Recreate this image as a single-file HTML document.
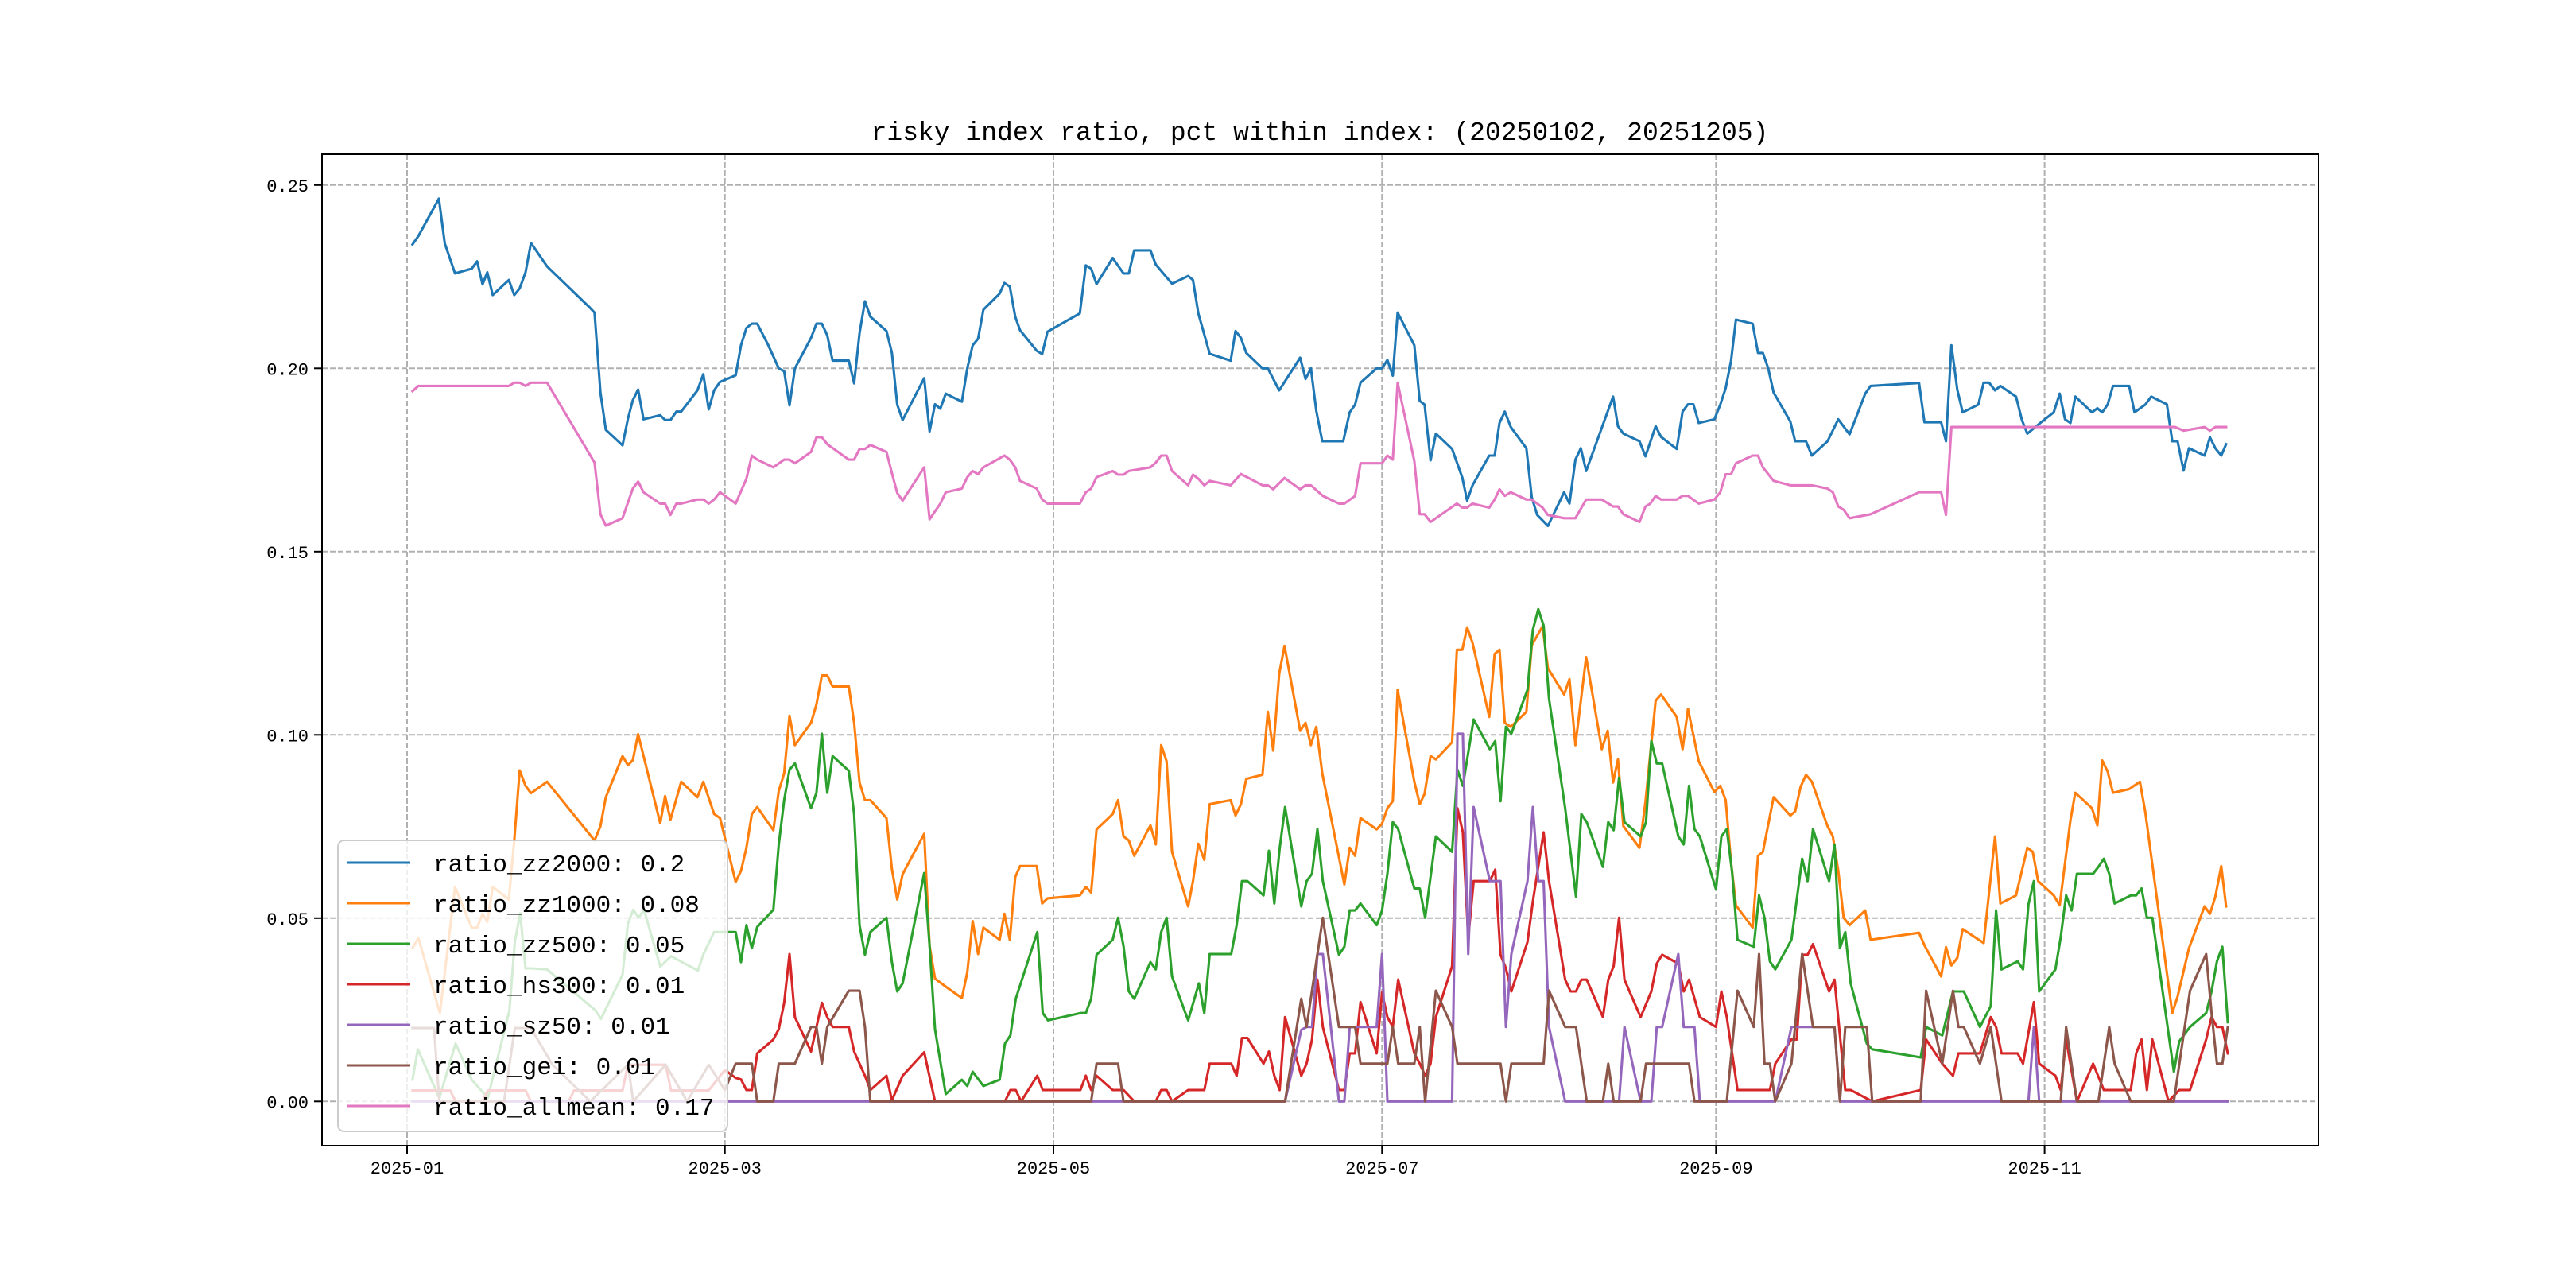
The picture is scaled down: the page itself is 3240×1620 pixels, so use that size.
<!DOCTYPE html>
<html><head><meta charset="utf-8">
<style>
html,body{margin:0;padding:0;background:#fff;}
svg{display:block;}
text{font-family:"Liberation Mono","WenQuanYi Zen Hei",monospace;}
</style></head>
<body>
<svg id="chart" width="3240" height="1620" viewBox="0 0 3240 1620" xmlns="http://www.w3.org/2000/svg">
<rect width="3240" height="1620" fill="#fff"/>
<text x="1660" y="176" font-size="33" text-anchor="middle" fill="#000">risky index ratio, pct within index: (20250102, 20251205)</text>
<g id="grid"></g>
<g id="series"></g>
<rect x="405" y="194" width="2511" height="1247" fill="none" stroke="#000" stroke-width="2"/>
<g id="ticks"></g>
<g id="legend"></g>
</svg>
<script>
// x values are day offsets from 2025-01-01
const zz2000Days=[1,2.1,4.9,5.9,7,8.9,12,13,14,14.9,15.9,18.9,19.9,20.9,22,23,26,33.9,34.8,35.9,36.9,40,41,41.9,42.9,43.9,47,47.9,48.9,50,50.9,53.9,55,56,57,58.1,61,62,63,64,65,67,69,70,71,72,75,76,77,78,79,82,83,84,85,86,89,90,91,92,96,97,98,99,100,103,104,105,106,107,110,110.9,111.9,112.9,113.8,116.9,117.9,118.9,124.9,126,127,128,131,133,134,135,138,139,142,145,145.9,146.9,149,152.9,153.8,154.8,155.8,158.8,159.8,161.9,165.8,166.8,167.8,168.8,169.9,173.8,175,176,177,180,181,182,183,183.9,187,188,188.9,190,191,194,195.9,196.8,197.8,200.9,201.9,202.8,203.8,204.9,207.8,208.8,209.8,210.8,211.8,214.8,215.8,216.9,217.9,218.9,223.9,224.8,225.8,228.8,229.9,231.8,232.8,235.7,236.8,237.8,238.8,239.8,242.7,243.8,244.8,245.8,246.7,249.8,250.8,251.7,252.7,253.7,256.8,257.7,259.7,260.8,263.7,265.7,267.8,270.7,271.7,280.7,281.7,284.8,285.7,286.7,287.8,288.8,291.7,292.7,293.7,294.8,295.8,298.7,299.8,300.8,303.7,305.7,306.8,307.8,308.8,309.7,312.8,313.8,314.7,315.7,316.7,319.7,320.7,322.7,323.8,326.7,327.7,328.7,329.8,330.8,333.7,334.7,335.7,336.8,337.7];
const zz2000Vals=[0.2338,0.2361,0.2436,0.2463,0.2341,0.2259,0.2272,0.2292,0.2229,0.2262,0.2200,0.2241,0.2200,0.2218,0.2262,0.2342,0.2278,0.2166,0.2152,0.1934,0.1832,0.1790,0.1863,0.1913,0.1942,0.1861,0.1872,0.1859,0.1859,0.1882,0.1882,0.1940,0.1984,0.1888,0.1940,0.1963,0.1981,0.2063,0.2110,0.2122,0.2122,0.2065,0.2000,0.1992,0.1899,0.2000,0.2083,0.2122,0.2122,0.2090,0.2021,0.2021,0.1959,0.2096,0.2183,0.2141,0.2102,0.2042,0.1901,0.1859,0.1973,0.1828,0.1902,0.1890,0.1931,0.1909,0.2000,0.2063,0.2081,0.2160,0.2204,0.2233,0.2223,0.2141,0.2104,0.2048,0.2039,0.2100,0.2150,0.2281,0.2272,0.2230,0.2301,0.2259,0.2259,0.2322,0.2322,0.2283,0.2231,0.2252,0.2241,0.2150,0.2040,0.2021,0.2102,0.2083,0.2042,0.2000,0.2000,0.1940,0.2029,0.1971,0.2000,0.1884,0.1801,0.1801,0.1880,0.1901,0.1961,0.2000,0.2000,0.2023,0.1980,0.2152,0.2063,0.1911,0.1901,0.1749,0.1822,0.1780,0.1702,0.1639,0.1681,0.1762,0.1762,0.1851,0.1882,0.1840,0.1782,0.1648,0.1600,0.1585,0.1570,0.1662,0.1631,0.1751,0.1782,0.1720,0.1923,0.1842,0.1822,0.1801,0.1760,0.1842,0.1813,0.1780,0.1882,0.1902,0.1902,0.1851,0.1861,0.1901,0.1946,0.2021,0.2133,0.2122,0.2042,0.2042,0.2000,0.1934,0.1855,0.1801,0.1801,0.1762,0.1801,0.1861,0.1820,0.1931,0.1952,0.1960,0.1853,0.1853,0.1801,0.2063,0.1942,0.1880,0.1901,0.1961,0.1961,0.1940,0.1952,0.1923,0.1859,0.1822,0.1857,0.1880,0.1931,0.1861,0.1851,0.1923,0.1880,0.1891,0.1880,0.1901,0.1952,0.1952,0.1880,0.1901,0.1923,0.1902,0.1801,0.1801,0.1721,0.1782,0.1762,0.1812,0.1782,0.1762,0.1793];

const zz1000Days=[1,2.1,6.1,8.9,12,13,14,14.9,15.9,18.9,19.9,20.9,22,23,26,34.8,35.9,36.9,40,41,41.9,42.9,47,47.9,48.9,50.9,53.9,55,57,58.1,61,62,63,64,65,68,69,70,71,72,75,76,77,78,79,82,83,84,85,86,89,90,91,92,96,97,98,100,103,104,105,106,107,110,110.9,111.9,112.9,113.8,116.9,117.9,118.9,124.9,126,127,128,131,132,133,134,135,138,139,140,141,142,145,145.9,146.9,148,149,152.9,153.8,154.8,155.8,158.8,159.8,160.8,161.9,162.9,165.8,166.8,167.8,168.8,169.9,174,175,176,177,180,181,182,183,183.9,187,188,188.9,190,191,194,194.9,195.9,196.8,197.8,200.9,201.9,202.8,203.8,204.9,207.8,208.8,210.8,211.8,214.8,215.8,216.9,218.9,221.8,222.9,223.9,224.8,225.8,228.8,229.9,231.8,232.8,235.7,236.8,237.8,239.8,242.7,243.8,244.8,245.8,246.7,249.8,250.8,251.7,253.7,256.8,257.7,258.7,259.7,260.8,263.7,264.7,265.7,266.7,267.8,270.7,271.7,280.7,281.7,284.8,285.7,286.7,287.8,288.8,292.7,294.8,295.8,298.7,300.8,301.8,302.8,305.7,306.8,308.8,309.7,312.8,313.8,314.7,315.7,316.7,319.7,321.7,322.7,327.7,328.7,330.8,333.7,334.7,335.7,336.8,337.7];
const zz1000Vals=[0.0418,0.0446,0.0241,0.0585,0.0474,0.0474,0.0512,0.0490,0.0585,0.0551,0.0712,0.0903,0.0861,0.0841,0.0872,0.0712,0.0751,0.0830,0.0942,0.0917,0.0931,0.1002,0.0759,0.0833,0.0769,0.0872,0.0830,0.0872,0.0784,0.0773,0.0599,0.0629,0.0692,0.0784,0.0803,0.0740,0.0847,0.0895,0.1052,0.0972,0.1033,0.1083,0.1162,0.1162,0.1132,0.1132,0.1033,0.0870,0.0822,0.0822,0.0773,0.0634,0.0551,0.0620,0.0730,0.0424,0.0335,0.0313,0.0282,0.0352,0.0492,0.0402,0.0474,0.0441,0.0512,0.0441,0.0612,0.0642,0.0642,0.0540,0.0554,0.0562,0.0585,0.0570,0.0742,0.0784,0.0822,0.0723,0.0712,0.0670,0.0753,0.0701,0.0972,0.0928,0.0681,0.0532,0.0601,0.0703,0.0659,0.0811,0.0822,0.0780,0.0811,0.0880,0.0891,0.1063,0.0957,0.1166,0.1243,0.1011,0.1033,0.0972,0.1022,0.0895,0.0592,0.0692,0.0670,0.0773,0.0742,0.0758,0.0800,0.0819,0.1123,0.0872,0.0811,0.0839,0.0942,0.0933,0.0980,0.1232,0.1232,0.1293,0.1251,0.1049,0.1221,0.1232,0.1033,0.1022,0.1063,0.1245,0.1296,0.1182,0.1110,0.1152,0.0972,0.1212,0.0961,0.1011,0.0870,0.0933,0.0751,0.0692,0.0817,0.1093,0.1110,0.1049,0.0961,0.1071,0.0928,0.0844,0.0861,0.0822,0.0651,0.0535,0.0474,0.0670,0.0681,0.0830,0.0780,0.0791,0.0858,0.0891,0.0872,0.0751,0.0723,0.0629,0.0501,0.0481,0.0521,0.0441,0.0460,0.0426,0.0341,0.0421,0.0371,0.0391,0.0470,0.0432,0.0723,0.0540,0.0562,0.0692,0.0681,0.0601,0.0562,0.0535,0.0767,0.0842,0.0800,0.0753,0.0930,0.0900,0.0842,0.0852,0.0872,0.0789,0.0241,0.0286,0.0418,0.0532,0.0512,0.0559,0.0642,0.0532];

const zz500Days=[1,2,6,9,12,15,19,20,21,22,23,26,35,36,40,41,42,43,44,47,49,54,55,57,58,61,62,63,64,65,68,69,70,71,72,75,76,77,78,79,82,83,84,85,86,89,90,91,92,96,97,98,100,103,104,105,107,110,111,112,113,117,118,119,125,126,127,128,131,132,133,134,135,138,139,140,141,142,145,147,148,149,153,154,155,156,159,160,161,162,163,166,167,168,169,170,173,174,175,176,177,180,181,182,183,184,187,188,189,191,194,195,196,198,201,202,203,204,205,208,209,210,211,212,215,217,218,219,222,223,224,225,226,229,230,231,232,233,236,237,238,239,240,243,244,245,246,247,250,251,252,253,254,257,259,260,261,264,265,266,267,268,271,272,281,282,285,287,289,292,294,295,296,299,300,301,302,303,306,307,308,309,310,313,314,315,316,317,320,321,322,323,324,328,329,331,334,335,336,337,338];
const zz500Vals=[0.0059,0.0142,0.0009,0.0158,0.0059,0.0010,0.0248,0.0435,0.0513,0.0363,0.0363,0.0360,0.0248,0.0225,0.0346,0.0485,0.0523,0.0501,0.0523,0.0368,0.0396,0.0357,0.0401,0.0462,0.0462,0.0462,0.0380,0.0481,0.0418,0.0476,0.0523,0.0701,0.0822,0.0905,0.0922,0.0800,0.0842,0.1003,0.0842,0.0942,0.0902,0.0784,0.0481,0.0400,0.0462,0.0501,0.0380,0.0300,0.0322,0.0623,0.0424,0.0197,0.0020,0.0059,0.0042,0.0081,0.0042,0.0059,0.0158,0.0180,0.0280,0.0462,0.0241,0.0221,0.0241,0.0241,0.0280,0.0400,0.0441,0.0501,0.0424,0.0300,0.0280,0.0380,0.0360,0.0462,0.0501,0.0341,0.0221,0.0322,0.0241,0.0402,0.0402,0.0481,0.0601,0.0601,0.0562,0.0684,0.0540,0.0690,0.0803,0.0532,0.0601,0.0621,0.0743,0.0601,0.0400,0.0422,0.0521,0.0521,0.0540,0.0481,0.0521,0.0621,0.0762,0.0743,0.0581,0.0581,0.0501,0.0723,0.0681,0.0905,0.0861,0.1042,0.0961,0.0983,0.0819,0.1022,0.1003,0.1123,0.1287,0.1343,0.1298,0.1099,0.0800,0.0559,0.0784,0.0762,0.0640,0.0762,0.0740,0.0883,0.0762,0.0723,0.0762,0.0983,0.0922,0.0922,0.0723,0.0701,0.0861,0.0743,0.0723,0.0579,0.0723,0.0743,0.0623,0.0441,0.0422,0.0562,0.0501,0.0382,0.0360,0.0441,0.0662,0.0601,0.0743,0.0601,0.0701,0.0418,0.0462,0.0322,0.0158,0.0142,0.0120,0.0203,0.0180,0.0300,0.0300,0.0203,0.0260,0.0521,0.0360,0.0382,0.0360,0.0537,0.0601,0.0300,0.0360,0.0448,0.0562,0.0521,0.0621,0.0621,0.0640,0.0662,0.0621,0.0540,0.0562,0.0562,0.0581,0.0501,0.0501,0.0081,0.0164,0.0203,0.0241,0.0300,0.0382,0.0422,0.0216];

const hs300Days=[1,8,9,14,15,22,23,30,31,40,41,48,49,56,59,61,62,63,64,65,68,69,70,71,72,75,76,77,78,79,82,83,85,86,89,90,92,96,98,111,112,113,114,117,118,125,126,127,128,131,133,135,139,140,141,142,145,148,149,153,154,155,156,159,160,161,162,163,166,167,168,169,170,173,174,175,176,177,180,181,182,183,184,187,188,189,190,191,194,195,196,197,198,201,202,203,204,205,208,209,211,212,215,216,217,218,219,222,223,224,225,226,229,231,232,233,236,237,238,240,243,244,245,247,253,254,257,258,259,260,261,264,265,266,267,268,272,281,282,285,287,288,292,294,295,296,299,300,302,303,306,307,308,310,313,315,320,321,322,323,324,327,329,331,334,335,336,337,338];
const hs300Vals=[0.003,0.003,0,0,0.003,0.003,0,0,0.003,0.003,0.01,0.01,0.003,0.003,0.0086,0.0064,0.0060,0.0031,0.0031,0.0131,0.0169,0.0197,0.0269,0.0402,0.0230,0.0136,0.0203,0.0269,0.0230,0.0203,0.0203,0.0136,0.0070,0.0031,0.0070,0.0003,0.0070,0.0134,0,0,0.0031,0.0031,0,0.0070,0.0031,0.0031,0.0070,0.0031,0.0070,0.0031,0.0031,0,0,0.0031,0.0031,0,0.0031,0.0031,0.0103,0.0103,0.0070,0.0173,0.0173,0.0103,0.0136,0.0070,0.0031,0.0230,0.0070,0.0103,0.0169,0.0332,0.0203,0.0031,0.0031,0.0131,0.0131,0.0271,0.0131,0.0297,0.0230,0.0203,0.0332,0.0131,0.0103,0.0070,0.0103,0.0230,0.0369,0.0800,0.0734,0.0446,0.0601,0.0601,0.0632,0.0400,0.0363,0.0300,0.0435,0.0546,0.0734,0.0601,0.0332,0.0300,0.0300,0.0332,0.0332,0.0230,0.0332,0.0369,0.0501,0.0332,0.0230,0.0300,0.0376,0.0400,0.0376,0.0300,0.0332,0.0230,0.0203,0.0300,0.0230,0.0031,0.0031,0.0103,0.0169,0.0169,0.0400,0.0400,0.0429,0.0300,0.0332,0.0180,0.0031,0.0031,0,0.0031,0.0169,0.0103,0.0070,0.0131,0.0131,0.0230,0.0203,0.0131,0.0131,0.0103,0.0271,0.0103,0.0070,0.0031,0.0169,0,0.0103,0.0031,0.0031,0.0131,0.0169,0.0031,0.0169,0,0.0031,0.0031,0.0169,0.0230,0.0203,0.0203,0.0131];

const sz50Days=[1,163,166,167,168,169,170,173,174,175,180,181,182,194,195,196,197,198,201,203,204,205,208,209,210,211,212,215,225,226,229,231,232,233,236,237,239,240,254,257,265,266,301,302,303,338];
const sz50Vals=[0,0,0.0195,0.0203,0.0203,0.0402,0.0402,0,0,0.0203,0.0203,0.0402,0,0,0.1003,0.1003,0.0402,0.0803,0.0601,0.0601,0.0203,0.0402,0.0601,0.0803,0.0601,0.0601,0.0203,0,0,0.0203,0,0,0.0203,0.0203,0.0402,0.0203,0.0203,0,0,0.0203,0.0203,0,0,0.0203,0,0];

const geiDays=[1,5,6,18,20,23,27,34,41,42,48,52,56,59,61,64,65,68,69,72,75,76,77,78,82,84,85,86,127,128,132,133,163,166,167,170,173,176,177,182,183,184,187,188,189,191,194,195,203,204,205,211,212,215,217,219,222,223,224,229,230,233,237,238,239,245,247,250,251,252,253,254,257,259,261,265,266,267,271,272,281,282,285,287,288,289,292,294,296,307,308,310,314,316,317,320,328,331,334,335,336,337,338];
const geiVals=[0.02,0.02,0,0,0.02,0.02,0.01,0,0.01,0,0.01,0,0.01,0.0031,0.0103,0.0103,0,0,0.0103,0.0103,0.0203,0.0203,0.0103,0.0203,0.0302,0.0302,0.0203,0,0,0.0103,0.0103,0,0,0.0280,0.0203,0.0501,0.0203,0.0203,0.0103,0.0103,0.0203,0.0103,0.0103,0.0203,0,0.0302,0.0203,0.0103,0.0103,0,0.0103,0.0103,0.0302,0.0203,0.0203,0,0,0.0103,0,0,0.0103,0.0103,0.0103,0.0103,0,0,0.0302,0.0203,0.0402,0.0103,0.0103,0,0.0103,0.0402,0.0203,0.0203,0,0.0203,0.0203,0,0,0.0302,0.0103,0.0302,0.0203,0.0203,0.0103,0.0203,0,0,0.0203,0,0,0.0203,0.0103,0,0,0.0302,0.0402,0.0241,0.0103,0.0103,0.0203];

const allmeanDays=[1,2.1,18.9,19.9,20.9,22,23,26,34.8,35.9,36.9,40,41.9,42.9,43.9,47,47.9,48.9,50,50.9,53.9,55,56,57,58.1,61,63,64,65,68,70,71,72,75,76,77,78,82,83,84,85,86,89,90,91,92,96,97,99,100,103,104,105,106,107,110.9,111.9,112.9,113.8,116.9,117.9,118.9,124.9,126,127,128,131,132,133,134,138,139,140,141,142,145,145.9,146.9,148,149,152.9,154.8,158.8,159.8,160.8,162.9,165.8,166.8,167.8,170,173,174,176,177,181,182,183,183.9,187,188,188.9,190,194.9,195.9,196.8,197.8,200.9,201.9,202.8,203.8,204.9,207.8,208.8,210.8,211.8,214.8,216.9,218.9,221.8,223.9,224.8,225.8,228.8,229.9,230.8,231.8,232.8,235.7,236.8,237.8,239.8,242.7,243.8,244.8,245.8,246.7,249.8,250.8,251.7,253.7,256.8,260.8,263.7,264.7,265.7,266.7,267.8,271.7,280.7,284.8,285.7,286.7,328.2,329.8,333.7,334.7,335.7,337.7];
const allmeanVals=[0.1938,0.1952,0.1952,0.1961,0.1961,0.1952,0.1961,0.1961,0.1743,0.1602,0.1571,0.1591,0.1672,0.1691,0.1662,0.1631,0.1631,0.1600,0.1631,0.1631,0.1642,0.1642,0.1631,0.1642,0.1662,0.1631,0.1699,0.1762,0.1751,0.1730,0.1751,0.1751,0.1741,0.1772,0.1812,0.1812,0.1793,0.1751,0.1751,0.1780,0.1780,0.1791,0.1772,0.1714,0.1660,0.1639,0.1730,0.1588,0.1631,0.1662,0.1672,0.1703,0.1720,0.1711,0.1730,0.1762,0.1751,0.1730,0.1693,0.1672,0.1642,0.1631,0.1631,0.1662,0.1672,0.1703,0.1720,0.1710,0.1710,0.1720,0.1730,0.1743,0.1762,0.1762,0.1720,0.1681,0.1710,0.1699,0.1681,0.1693,0.1681,0.1712,0.1681,0.1681,0.1670,0.1701,0.1670,0.1681,0.1681,0.1652,0.1631,0.1631,0.1652,0.1741,0.1741,0.1762,0.1751,0.1961,0.1747,0.1602,0.1602,0.1581,0.1631,0.1620,0.1620,0.1631,0.1620,0.1642,0.1670,0.1652,0.1662,0.1642,0.1642,0.1620,0.1600,0.1591,0.1591,0.1642,0.1642,0.1623,0.1623,0.1602,0.1581,0.1623,0.1631,0.1652,0.1642,0.1642,0.1652,0.1652,0.1631,0.1642,0.1662,0.1711,0.1711,0.1741,0.1762,0.1762,0.1730,0.1693,0.1681,0.1681,0.1672,0.1662,0.1623,0.1614,0.1591,0.1602,0.1662,0.1662,0.1600,0.1840,0.1840,0.1830,0.1840,0.1830,0.1840,0.1840];

const yTicks=[0,0.05,0.10,0.15,0.20,0.25];
const yTickLabels=["0.00","0.05","0.10","0.15","0.20","0.25"];
const xTickDays=[0,59,120,181,243,304];
const xTickLabels=["2025-01","2025-03","2025-05","2025-07","2025-09","2025-11"];
const legendLabels=["ratio_zz2000: 0.2","ratio_zz1000: 0.08","ratio_zz500: 0.05","ratio_hs300: 0.01","ratio_sz50: 0.01","ratio_gei: 0.01","ratio_allmean: 0.17"];

const NS="http://www.w3.org/2000/svg";
const X0=512, PXDAY=6.775, Y0=1385.3, PXUNIT=4610;
function xScale(d){return X0+d*PXDAY;}
function yScale(v){return Y0-v*PXUNIT;}
function mk(tag,attrs,parent){const e=document.createElementNS(NS,tag);for(const k in attrs)e.setAttribute(k,attrs[k]);parent.appendChild(e);return e;}

const grid=document.getElementById('grid');
const ticks=document.getElementById('ticks');
yTicks.forEach((v,i)=>{
  const y=yScale(v);
  const gl=mk('line',{x1:405,x2:2916,y1:y,y2:y,stroke:'#b0b0b0','stroke-width':2,'stroke-dasharray':'7,3'},grid);
  
  
  const tk=mk('line',{x1:395,x2:405,y1:y,y2:y,stroke:'#000','stroke-width':2},ticks);
  
  
  const t=mk('text',{x:388,y:y+8,'font-size':22,'text-anchor':'end',fill:'#000'},ticks);
  t.textContent=yTickLabels[i];
  
  
});
xTickDays.forEach((d,i)=>{
  const x=xScale(d);
  const gl=mk('line',{x1:x,x2:x,y1:194,y2:1441,stroke:'#b0b0b0','stroke-width':2,'stroke-dasharray':'7,3'},grid);
  
  
  const tk=mk('line',{x1:x,x2:x,y1:1441,y2:1451,stroke:'#000','stroke-width':2},ticks);
  
  
  const t=mk('text',{x:x,y:1476,'font-size':22,'text-anchor':'middle',fill:'#000'},ticks);
  t.textContent=xTickLabels[i];
  
  
});

const seriesG=document.getElementById('series');
const seriesList=[
  ['zz2000',zz2000Days,zz2000Vals,'#1f77b4'],
  ['zz1000',zz1000Days,zz1000Vals,'#ff7f0e'],
  ['zz500',zz500Days,zz500Vals,'#2ca02c'],
  ['hs300',hs300Days,hs300Vals,'#d62728'],
  ['sz50',sz50Days,sz50Vals,'#9467bd'],
  ['gei',geiDays,geiVals,'#8c564b'],
  ['allmean',allmeanDays,allmeanVals,'#e377c2']
];
seriesList.forEach(s=>{
  const pts=s[1].map((d,i)=>xScale(d).toFixed(1)+','+yScale(s[2][i]).toFixed(1)).join(' ');
  const p=mk('polyline',{points:pts,fill:'none',stroke:s[3],'stroke-width':3.1,'stroke-linejoin':'round','stroke-linecap':'square'},seriesG);
  
  
});

const lg=document.getElementById('legend');
const box=mk('rect',{x:425,y:1057,width:490,height:366,rx:8,fill:'#fff','fill-opacity':0.8,stroke:'#cccccc','stroke-width':2},lg);


legendLabels.forEach((lab,i)=>{
  const y=1085+i*51;
  const ln=mk('line',{x1:437,x2:516,y1:y,y2:y,stroke:seriesList[i][3],'stroke-width':3.1},lg);
  
  
  const t=mk('text',{x:545,y:y+11,'font-size':31,fill:'#000'},lg);
  t.textContent=lab;
  
  
});
</script>
</body></html>
